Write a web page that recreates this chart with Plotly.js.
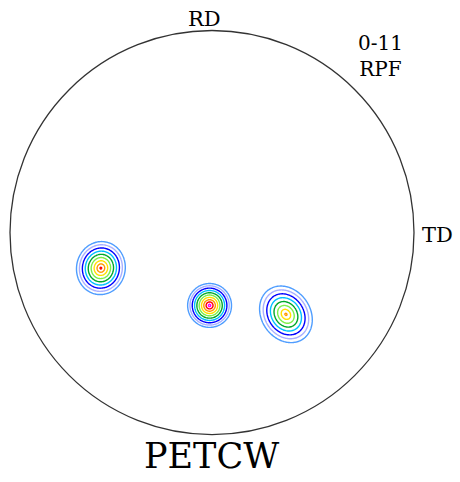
<!DOCTYPE html>
<html>
<head>
<meta charset="utf-8">
<script src="https://cdn.plot.ly/plotly-3.0.1.min.js"></script>
<style>html,body{margin:0;padding:0;background:#fff;}#chart{width:460px;height:482px;}</style>
</head>
<body>
<div id="chart"></div>
<script>
// Pole figure peaks (unit-circle coordinates)
const peakX = [-0.550, -0.012, 0.366];
const peakY = [-0.176, -0.361, -0.405];
const peakMax = [9.3, 10.5, 8.3];          // intensity at peak centre
const peakRadius = [0.139, 0.120, 0.147];  // radius where intensity reaches 0
const peakAspect = [1.06, 1.0, 1.15];      // elongation of each peak
const peakAngle = [80, 0, -55];            // direction of elongation (deg)
const contourLevels = [1, 2, 3, 4, 5, 6, 7, 8, 9, 10];
const levelColors = ['#4f9dff', '#a9b0ff', '#0000ff', '#00c0ff', '#00a82a', '#7cf04a', '#ffe000', '#ff9a00', '#ff0000', '#ff00ff'];
const axisLabels = ['RD', 'TD'];
const figureInfo = ['0-11', 'RPF'];
const sampleName = 'PETCW';

// grid over the region containing the peaks
const gx = [], gy = [];
for (let v = -0.75; v <= 0.6001; v += 0.004) gx.push(+v.toFixed(4));
for (let v = -0.62; v <= 0.02; v += 0.004) gy.push(+v.toFixed(4));
const z = gy.map(yy => gx.map(xx => {
  let s = 0;
  for (let k = 0; k < peakX.length; k++) {
    const a = peakAngle[k] * Math.PI / 180;
    const dx = xx - peakX[k], dy = yy - peakY[k];
    const u = (dx * Math.cos(a) + dy * Math.sin(a)) / peakAspect[k];
    const w = (-dx * Math.sin(a) + dy * Math.cos(a)) * Math.sqrt(peakAspect[k]);
    const r = Math.hypot(u, w);
    s += Math.max(0, peakMax[k] * (1 - r / peakRadius[k]));
  }
  return s;
}));

const nL = contourLevels.length;
const colorscale = levelColors.map((c, i) => [i / (nL - 1), c]);

const trace = {
  type: 'contour', x: gx, y: gy, z: z,
  zmin: contourLevels[0], zmax: contourLevels[nL - 1],
  colorscale: colorscale, showscale: false,
  contours: {coloring: 'lines', start: contourLevels[0], end: contourLevels[nL - 1], size: contourLevels[1] - contourLevels[0], showlabels: false},
  line: {width: 1.4, smoothing: 1},
  hoverinfo: 'skip'
};

const serif = 'DejaVu Serif';
const layout = {
  width: 460, height: 482,
  margin: {l: 0, r: 0, t: 0, b: 0},
  paper_bgcolor: '#fff', plot_bgcolor: '#fff',
  showlegend: false,
  font: {family: serif},
  xaxis: {range: [-1.0495, 1.2277], visible: false, fixedrange: true},
  yaxis: {range: [-1.235, 1.151], visible: false, fixedrange: true},
  shapes: [{type: 'circle', xref: 'x', yref: 'y', x0: -1, x1: 1, y0: -1, y1: 1, line: {color: '#333', width: 1.3}}],
  annotations: [
    {text: axisLabels[0], xref: 'paper', yref: 'paper', x: 204/460, y: 1 - 19/482, xanchor: 'center', yanchor: 'middle', showarrow: false, font: {family: serif, size: 21, color: '#000'}},
    {text: axisLabels[1], xref: 'paper', yref: 'paper', x: 437/460, y: 1 - 235/482, xanchor: 'center', yanchor: 'middle', showarrow: false, font: {family: serif, size: 21, color: '#000'}},
    {text: figureInfo.join('<br>'), xref: 'paper', yref: 'paper', x: 380/460, y: 1 - 56/482, xanchor: 'center', yanchor: 'middle', showarrow: false, font: {family: serif, size: 20, color: '#000'}},
    {text: sampleName, xref: 'paper', yref: 'paper', x: 211/460, y: 1 - 456/482, xanchor: 'center', yanchor: 'middle', showarrow: false, font: {family: serif, size: 35, color: '#000'}}
  ]
};

Plotly.newPlot('chart', [trace], layout, {staticPlot: true, displayModeBar: false});
</script>
</body>
</html>
